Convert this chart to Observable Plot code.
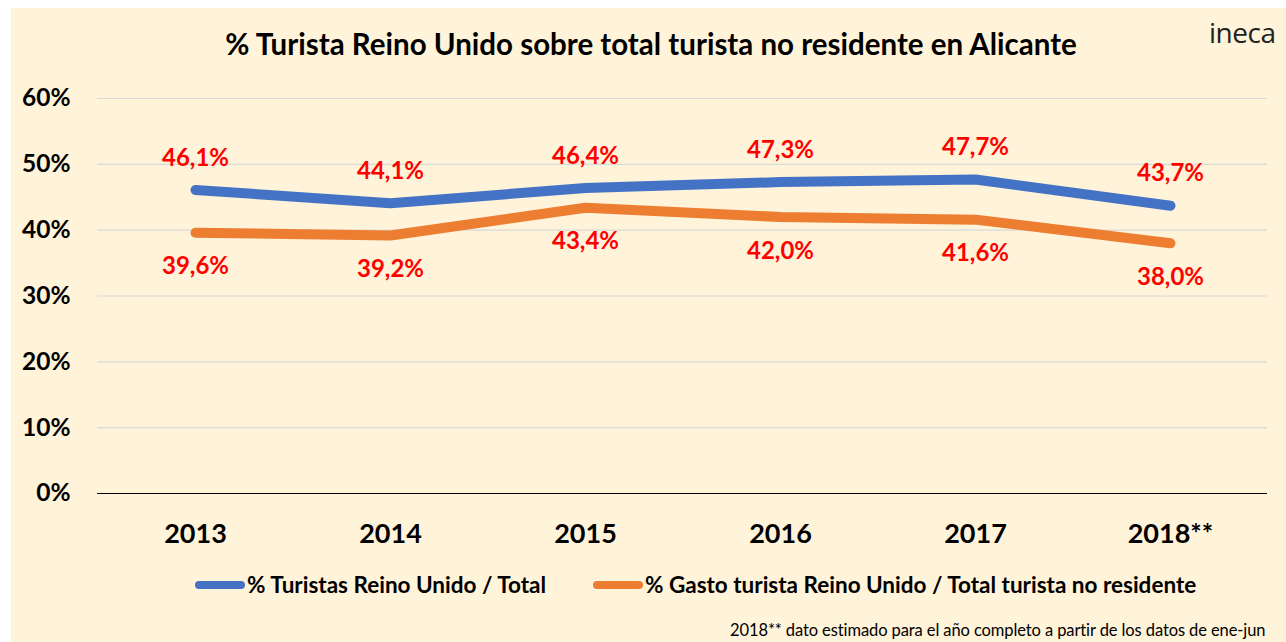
<!DOCTYPE html>
<html>
<head>
<meta charset="utf-8">
<script src="https://cdn.jsdelivr.net/npm/d3@7"></script>
<script src="https://cdn.jsdelivr.net/npm/@observablehq/plot@0.6"></script>
<style>
  html, body { margin: 0; padding: 0; background: #fff; overflow: hidden; width: 1286px; height: 642px; }
  #frame { position: absolute; left: 11px; top: 8px; width: 1275px; height: 634px; background: #FFF3D9; }
  #wrap { position: absolute; left: 0; top: 0; width: 1286px; height: 642px; font-family: Lato, "Open Sans", sans-serif; }
  #chart { position: absolute; left: 0; top: 0; }
  #title { position: absolute; left: 0; width: 1302px; top: 26px; text-align: center; font-weight: bold; font-size: 29.5px; line-height: 36px; color: #000; }
  #logo { position: absolute; left: 1209px; top: 13px; font-size: 28px; color: #222; font-family: "Open Sans", sans-serif; letter-spacing: -0.5px; }
  .leg { position: absolute; top: 570px; font-weight: bold; font-size: 22.5px; line-height: 30px; color: #000; display: flex; align-items: center; white-space: nowrap; }
  .sw { display: inline-block; width: 50px; height: 8px; border-radius: 4px; margin-right: 2px; }
  #caption { position: absolute; left: 730px; top: 620px; font-size: 16.5px; color: #000; white-space: nowrap; font-family: Lato, sans-serif; letter-spacing: -0.1px; }
</style>
</head>
<body>
<div id="frame"></div>
<div id="wrap">
  <div id="chart"></div>
  <div id="title">% Turista Reino Unido sobre total turista no residente en Alicante</div>
  <div id="logo">ineca</div>
  <div class="leg" style="left:195px"><span class="sw" style="background:#4472C4"></span>% Turistas Reino Unido / Total</div>
  <div class="leg" style="left:593px"><span class="sw" style="background:#ED7D31"></span>% Gasto turista Reino Unido / Total turista no residente</div>
  <div id="caption">2018** dato estimado para el año completo a partir de los datos de ene-jun</div>
</div>
<script>
const years = ["2013", "2014", "2015", "2016", "2017", "2018**"];
const turistas = [46.1, 44.1, 46.4, 47.3, 47.7, 43.7];
const gasto = [39.6, 39.2, 43.4, 42.0, 41.6, 38.0];
const yTicks = [0, 10, 20, 30, 40, 50, 60];

const dataT = years.map((y, i) => ({year: y, v: turistas[i]}));
const dataG = years.map((y, i) => ({year: y, v: gasto[i]}));
const fmt = v => v.toFixed(1).replace(".", ",") + "%";

const chart = Plot.plot({
  width: 1286,
  height: 560,
  marginTop: 98,
  marginBottom: 67,
  marginLeft: 97,
  marginRight: 19,
  style: {background: "transparent", fontFamily: "Lato, 'Open Sans', sans-serif", overflow: "visible"},
  x: {type: "point", domain: years, padding: 0.5, label: null},
  y: {domain: [0, 60], label: null},
  marks: [
    Plot.gridY(yTicks.filter(d => d > 0), {stroke: "#D9D9D9", strokeOpacity: 1, strokeWidth: 1.2}),
    Plot.ruleY([0], {stroke: "#000", strokeWidth: 1.2}),
    Plot.axisY(yTicks, {tickSize: 0, tickPadding: 27, tickFormat: d => d + "%", fontSize: 24.5, fontWeight: "bold", fill: "#000", label: null}),
    Plot.axisX({tickSize: 0, tickPadding: 30, fontSize: 27, fontWeight: "bold", fill: "#000", label: null}),
    Plot.line(dataT, {x: "year", y: "v", stroke: "#4472C4", strokeWidth: 10, strokeLinecap: "round", strokeLinejoin: "round"}),
    Plot.line(dataG, {x: "year", y: "v", stroke: "#ED7D31", strokeWidth: 10, strokeLinecap: "round", strokeLinejoin: "round"}),
    Plot.text(dataT, {x: "year", y: "v", text: d => fmt(d.v), dy: -32, fill: "#FF0000", fontSize: 24, fontWeight: "bold"}),
    Plot.text(dataG, {x: "year", y: "v", text: d => fmt(d.v), dy: 34, fill: "#FF0000", fontSize: 24, fontWeight: "bold"})
  ]
});
document.getElementById("chart").appendChild(chart);
</script>
</body>
</html>
